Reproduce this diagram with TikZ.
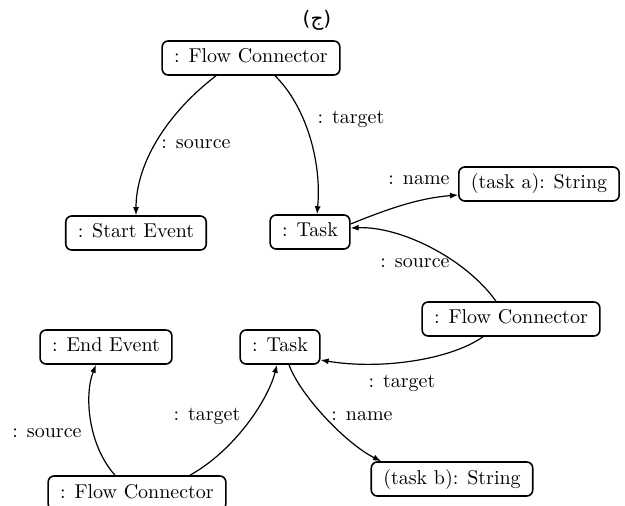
\documentclass[tikz,border=0pt]{standalone}
\usepackage{fontspec}
\newfontfamily\arabicfont[Script=Arabic]{DejaVu Sans}
\TeXXeTstate=1
\usetikzlibrary{arrows.meta,calc}
\begin{document}
\begin{tikzpicture}[x=0.5pt,y=-0.5pt,
  obj/.style={draw,rounded corners=3pt,line width=0.8pt,inner xsep=6pt,inner ysep=3.5pt,text height=7.5pt,text depth=2.5pt,font=\normalsize},
  lbl/.style={inner sep=0pt,font=\normalsize},
  rel/.style={line width=0.6pt,-{Latex[length=4pt,width=3pt]}}]
\useasboundingbox (0,0) rectangle (625,506);
\node[lbl] (title) at (317,20) {\arabicfont\beginR(ج)\endR};
\node[obj] (fc1) at (251,58) {: Flow Connector};
\node[obj] (start) at (136,233) {: Start Event};
\node[obj] (task1) at (310,232) {: Task};
\node[obj] (taska) at (539,184) {(task a): String};
\node[obj] (fc2) at (511,319) {: Flow Connector};
\node[obj] (endev) at (106,347) {: End Event};
\node[obj] (task2) at (280,347) {: Task};
\node[obj] (taskb) at (452,479) {(task b): String};
\node[obj] (fc3) at (137,493) {: Flow Connector};

\node[lbl] (l1) at (196,144) {: source};
\node[lbl] (l2) at (351,119) {: target};
\node[lbl] (l3) at (419,180) {: name};
\node[lbl] (l4) at (415,263) {: source};
\node[lbl] (l5) at (402,383) {: target};
\node[lbl] (l6) at (362,416) {: name};
\node[lbl] (l7) at (47,433) {: source};
\node[lbl] (l8) at (207,416) {: target};

\draw[rel] ($(fc1.south)+(-35,0)$) .. controls (165,115) and (136,165) .. (start.north);
\draw[rel] ($(fc1.south)+(24,0)$) .. controls (305,105) and (322,160) .. ($(task1.north)+(7,0)$);
\draw[rel] ($(task1.east)+(0,-8)$) .. controls (390,208) and (420,198) .. ($(taska.west)+(0,11)$);
\draw[rel] ($(fc2.north)+(-15,0)$) .. controls (465,258) and (400,226) .. ($(task1.east)+(0,-4)$);
\draw[rel] ($(fc2.south)+(-28,0)$) .. controls (450,360) and (380,370) .. ($(task2.east)+(0,13)$);
\draw[rel] ($(task2.south)+(9,0)$) .. controls (300,395) and (345,443) .. ($(taskb.north)+(-71,0)$);
\draw[rel] ($(fc3.north)+(-22,0)$) .. controls (88,445) and (84,395) .. ($(endev.south)+(-10,0)$);
\draw[rel] ($(fc3.north)+(53,0)$) .. controls (235,450) and (268,400) .. ($(task2.south)+(-3,0)$);
\end{tikzpicture}
\end{document}
